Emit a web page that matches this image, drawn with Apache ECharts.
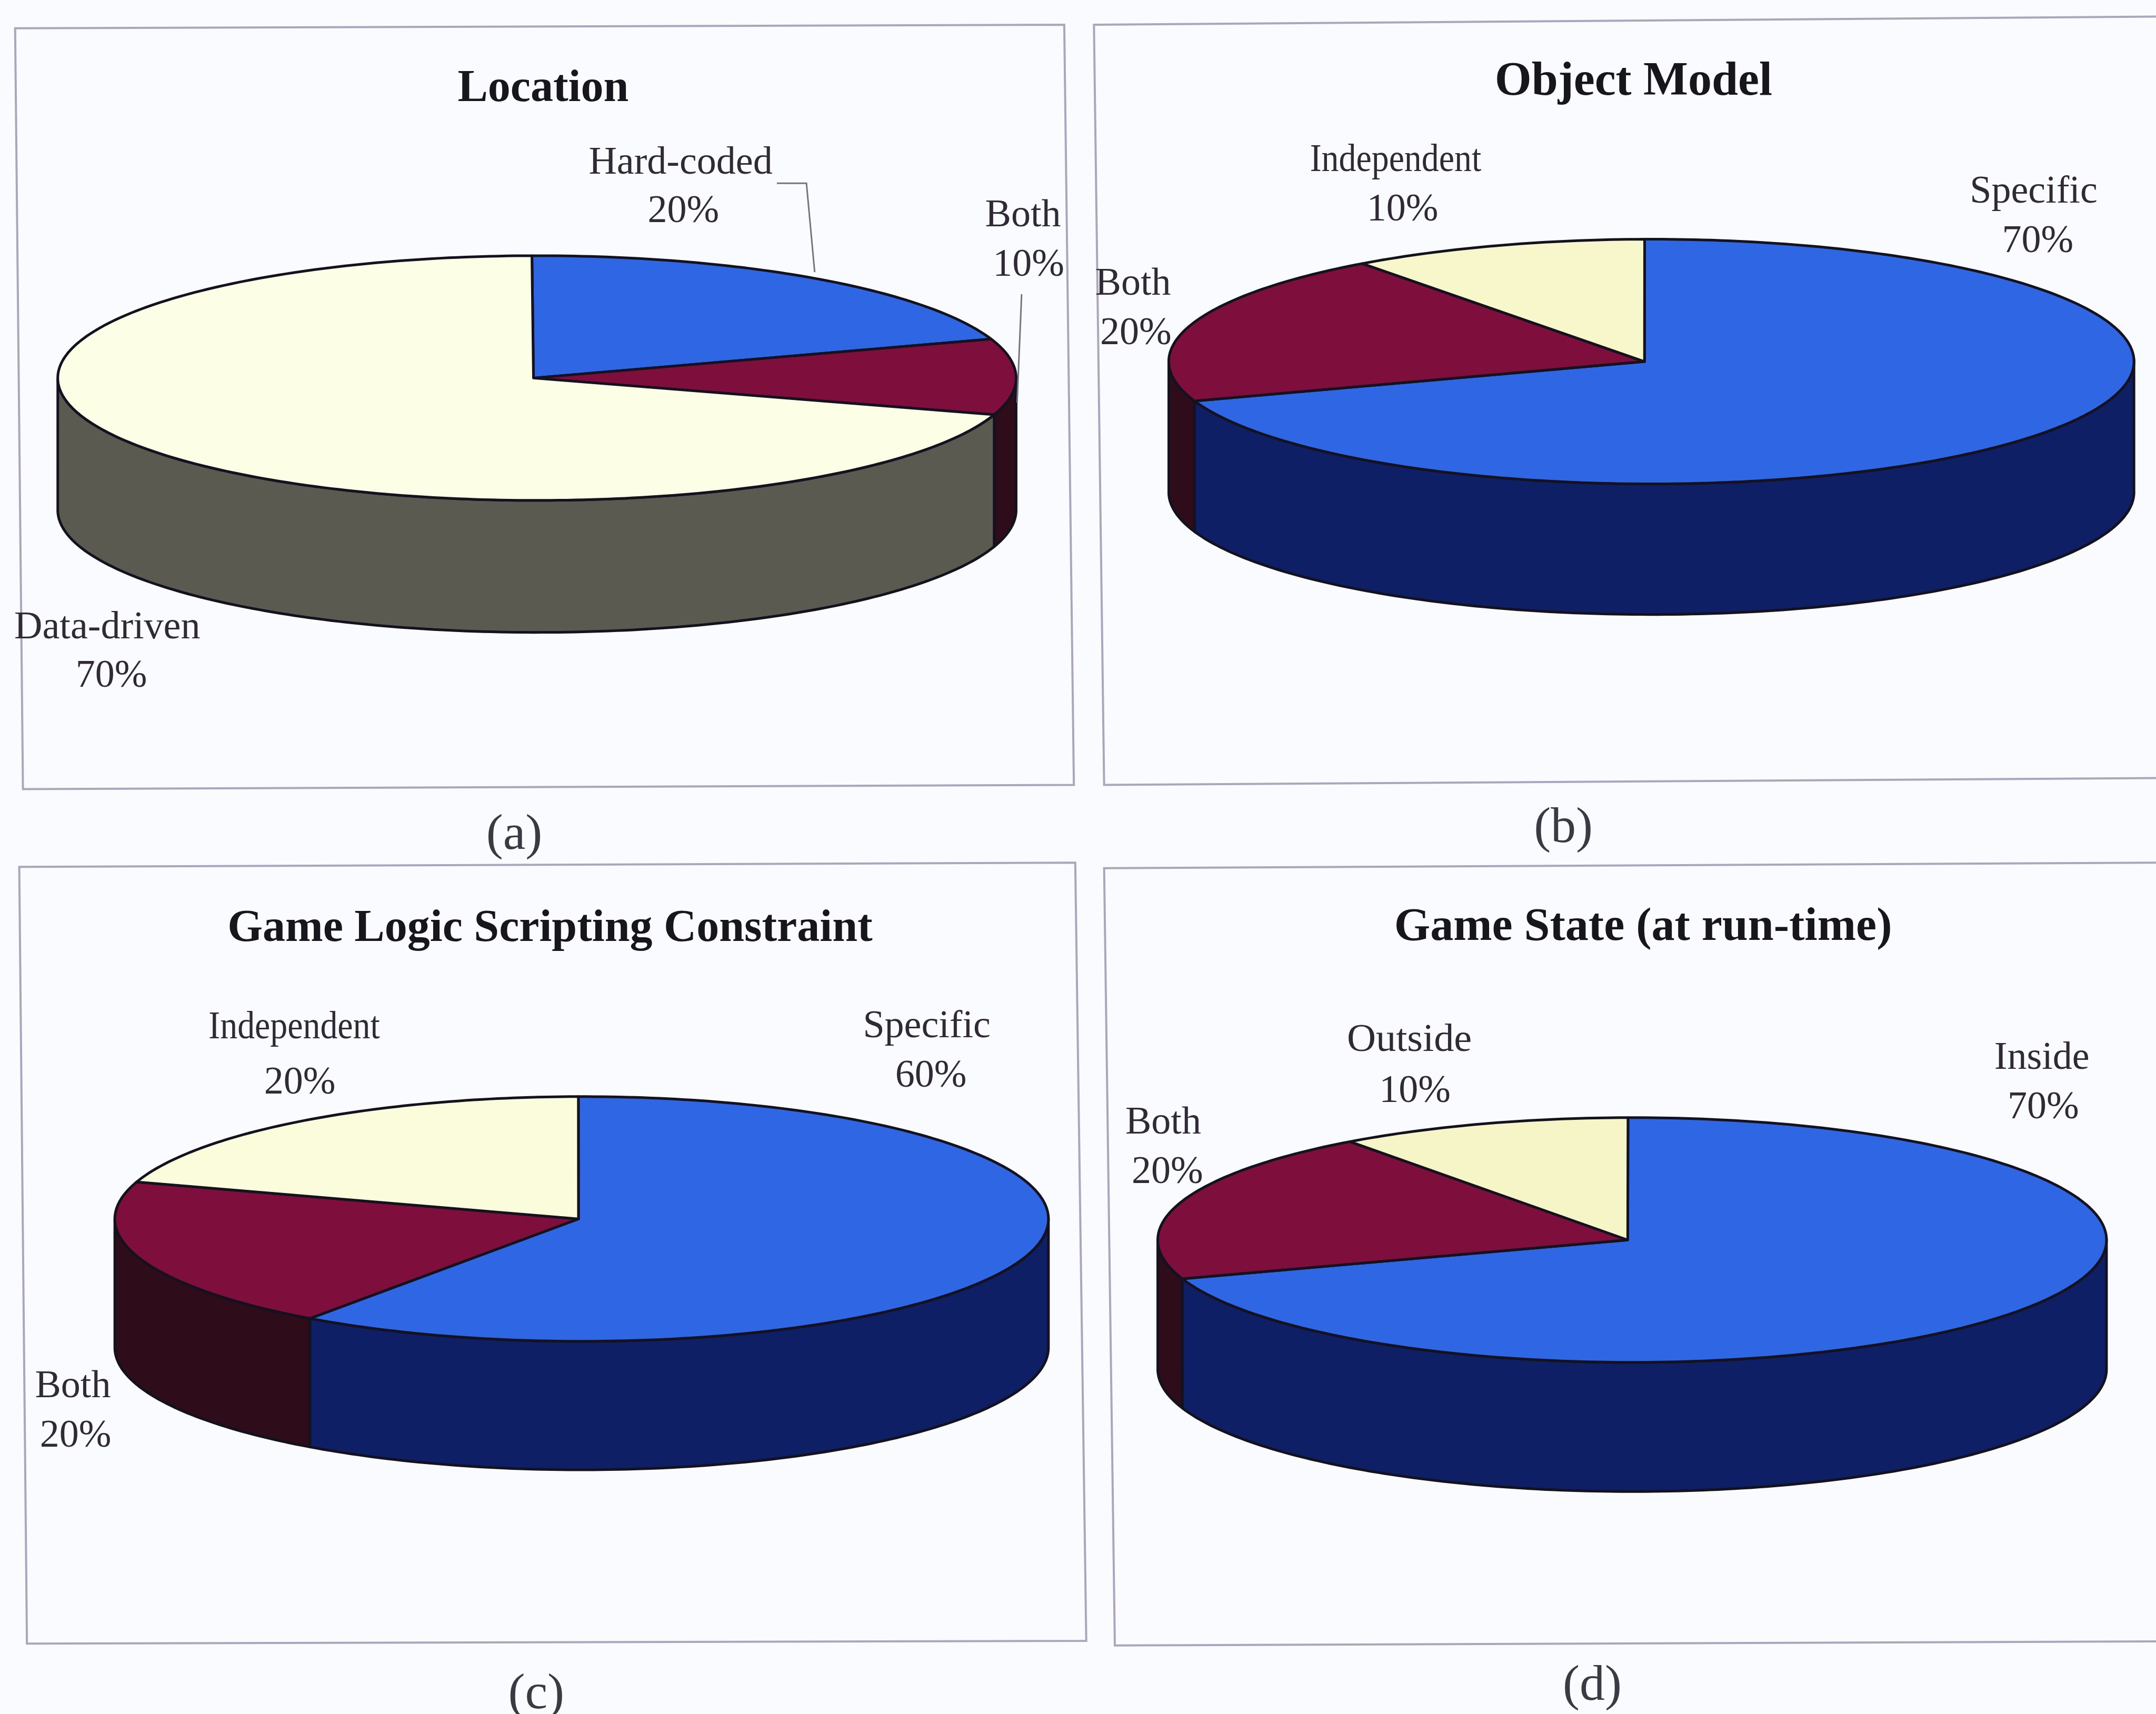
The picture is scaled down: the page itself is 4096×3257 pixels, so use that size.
<!DOCTYPE html>
<html>
<head>
<meta charset="utf-8">
<title>Survey pies</title>
<style>
  html, body { margin: 0; padding: 0; background: #f9fbff; }
  #chart { width: 4096px; height: 3257px; }
</style>
<script src="https://cdn.jsdelivr.net/npm/echarts@6/dist/echarts.min.js"></script>
</head>
<body>
<div id="chart"></div>
<script>
// Survey results, one list per pie, slices clockwise from twelve o'clock.
const locationNames = ['Hard-coded', 'Both', 'Data-driven'];
const locationValues = [20, 10, 70];
const objectModelNames = ['Specific', 'Both', 'Independent'];
const objectModelValues = [70, 20, 10];
const scriptingNames = ['Specific', 'Both', 'Independent'];
const scriptingValues = [60, 20, 20];
const gameStateNames = ['Inside', 'Both', 'Outside'];
const gameStateValues = [70, 20, 10];

const titles = ['Location', 'Object Model', 'Game Logic Scripting Constraint', 'Game State (at run-time)'];
const captions = ['(a)', '(b)', '(c)', '(d)'];

// Layout below is given on a 1568 wide sheet and scaled to the page.
const S = 4096 / 1568;
const TEXT_DROP = 2;

const BLUE = ['#2f66e4', '#0f1f66'];
const MAROON = ['#7e0e3c', '#2e0c1a'];

const panels = [
  {
    names: locationNames, values: locationValues, title: titles[0], caption: captions[0],
    cx: 390.5, cy: 275, rx: 348.5, ry: 89, depth: 96, apexX: 388, rot: -0.6,
    frame: [[11, 20.6], [774, 18], [781, 571], [16.7, 574]],
    titlePos: [395, 63], titleSize: 86, capPos: [374, 608],
    colors: [BLUE, MAROON, ['#fdfee6', '#5a5a50']],
    labels: [[495, 117, 497, 152], [744, 155, 748, 191], [78, 455, 81, 490]],
    widths: [1, 1, 1],
    leaders: [[[565, 133.3], [586.5, 133.3], [592.5, 198]], [[743, 214], [739.7, 293]]]
  },
  {
    names: objectModelNames, values: objectModelValues, title: titles[1], caption: captions[1],
    cx: 1201, cy: 263, rx: 351, ry: 89, depth: 95, apexX: 1196, rot: -0.8,
    frame: [[795.6, 18], [1570, 12], [1570, 566], [803, 571]],
    titlePos: [1188, 58], titleSize: 90, capPos: [1137, 603],
    colors: [BLUE, MAROON, ['#f7f7cb', '#5a5a50']],
    labels: [[1479, 138, 1482, 174], [824, 205, 826, 241], [1015, 115, 1020, 151]],
    widths: [1, 1, 0.89],
    leaders: []
  },
  {
    names: scriptingNames, values: scriptingValues, title: titles[2], caption: captions[2],
    cx: 423, cy: 886.7, rx: 339.5, ry: 89, depth: 93.5, apexX: 420.7, rot: -0.4,
    frame: [[14, 630.6], [782, 627.5], [790, 1193.6], [19.6, 1195.6]],
    titlePos: [400, 674], titleSize: 86, capPos: [390, 1233],
    colors: [BLUE, MAROON, ['#fbfcdc', '#5a5a50']],
    labels: [[674, 745, 677, 781], [53, 1007, 55, 1043], [214, 746, 218, 786]],
    widths: [1, 1, 0.89],
    leaders: []
  },
  {
    names: gameStateNames, values: gameStateValues, title: titles[3], caption: captions[3],
    cx: 1187, cy: 902, rx: 345, ry: 89, depth: 94, apexX: 1183.8, rot: -0.5,
    frame: [[803, 631.5], [1570, 627.5], [1570, 1194], [810.8, 1197]],
    titlePos: [1195, 673], titleSize: 88, capPos: [1158, 1227],
    colors: [BLUE, MAROON, ['#f5f5c8', '#5a5a50']],
    labels: [[1485, 768, 1486, 804], [846, 815, 849, 851], [1025, 755, 1029, 792]],
    widths: [1, 1, 1.03],
    leaders: []
  }
];

const OUTLINE = '#14121f';
const TEXT = '#2f2a36';
const SERIF = '"Liberation Serif", "Times New Roman", serif';

// Point on the rim of a tilted disc; angle in degrees clockwise from the top.
function rim(p, deg, drop) {
  const a = (deg + p.rot) * Math.PI / 180;
  return [
    (p.cx + p.rx * Math.sin(a)) * S,
    (p.cy - p.ry * Math.cos(a) + drop) * S
  ];
}

function arc(p, from, to, drop) {
  const pts = [];
  const steps = Math.max(2, Math.ceil(Math.abs(to - from)));
  for (let i = 0; i <= steps; i++) {
    pts.push(rim(p, from + (to - from) * i / steps, drop));
  }
  return pts;
}

function labelText(text, x, y, scaleX) {
  return {
    type: 'text', x: x * S, y: (y + TEXT_DROP) * S, scaleX: scaleX,
    style: {
      text: text, x: 0, y: 0, fill: TEXT,
      font: '74px ' + SERIF, textAlign: 'center', textVerticalAlign: 'middle'
    }
  };
}

function pieSeries(p) {
  const total = p.values.reduce(function (a, b) { return a + b; }, 0);
  return {
    type: 'custom',
    coordinateSystem: 'none',
    silent: true,
    data: p.values.map(function (v, i) { return { name: p.names[i], value: v }; }),
    renderItem: function (params, api) {
      const i = params.dataIndex;
      const value = api.value(0);
      let before = 0;
      for (let k = 0; k < i; k++) before += p.values[k];
      const start = before / total * 360;
      const end = (before + value) / total * 360;
      const children = [];

      // Side wall: only the part of the slice facing the viewer.
      const wallFrom = Math.max(start, 90);
      const wallTo = Math.min(end, 270);
      if (wallTo > wallFrom) {
        const upper = arc(p, wallFrom, wallTo, 0);
        const lower = arc(p, wallTo, wallFrom, p.depth);
        children.push({
          type: 'polygon',
          shape: { points: upper.concat(lower) },
          style: { fill: p.colors[i][1], stroke: OUTLINE, lineWidth: 5, lineJoin: 'round' }
        });
      }

      // Top face of the slice.
      const top = [[p.apexX * S, p.cy * S]].concat(arc(p, start, end, 0));
      children.push({
        type: 'polygon',
        shape: { points: top },
        style: { fill: p.colors[i][0], stroke: OUTLINE, lineWidth: 5, lineJoin: 'round' }
      });

      // Name and share, on two lines.
      const pos = p.labels[i];
      children.push(labelText(p.names[i], pos[0], pos[1], p.widths[i]));
      children.push(labelText(value + '%', pos[2], pos[3], 1));
      return { type: 'group', children: children };
    }
  };
}

const graphics = [];
panels.forEach(function (p) {
  graphics.push({
    type: 'polygon', z: 0,
    shape: { points: p.frame.map(function (c) { return [c[0] * S, c[1] * S]; }) },
    style: { fill: 'none', stroke: '#a9a6bd', lineWidth: 4 }
  });
  graphics.push({
    type: 'text', z: 5, x: p.titlePos[0] * S, y: (p.titlePos[1] + TEXT_DROP) * S,
    style: {
      text: p.title, fill: '#17161c', font: 'bold ' + p.titleSize + 'px ' + SERIF,
      textAlign: 'center', textVerticalAlign: 'middle'
    }
  });
  graphics.push({
    type: 'text', z: 5, x: p.capPos[0] * S, y: p.capPos[1] * S,
    style: {
      text: p.caption, fill: '#3a3a44', font: '96px ' + SERIF,
      textAlign: 'center', textVerticalAlign: 'middle'
    }
  });
  p.leaders.forEach(function (line) {
    graphics.push({
      type: 'polyline', z: 5,
      shape: { points: line.map(function (c) { return [c[0] * S, c[1] * S]; }) },
      style: { fill: 'none', stroke: '#77757f', lineWidth: 3 }
    });
  });
});

const chart = echarts.init(document.getElementById('chart'), null, { renderer: 'canvas' });
chart.setOption({
  animation: false,
  backgroundColor: '#f9fbff',
  graphic: graphics,
  series: panels.map(pieSeries)
});
</script>
</body>
</html>
